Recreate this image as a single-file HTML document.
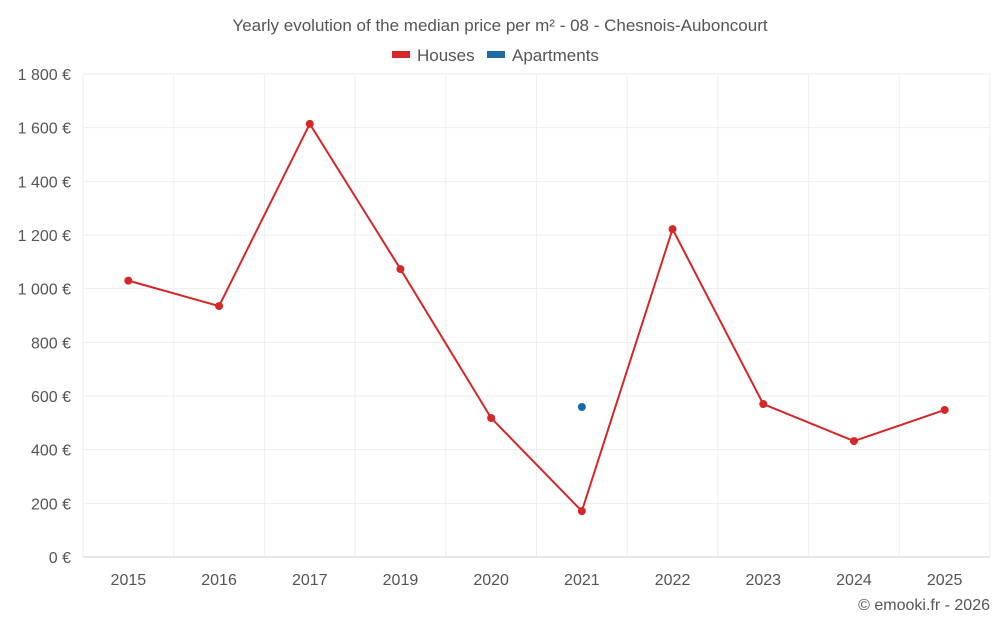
<!DOCTYPE html>
<html><head><meta charset="utf-8"><style>
body{margin:0;background:#fff;font-family:"Liberation Sans",sans-serif;}
svg text{font-family:"Liberation Sans",sans-serif;}
</style></head><body>
<svg id="c" width="1000" height="625">
<text x="500" y="31" text-anchor="middle" font-size="17" fill="#555">Yearly evolution of the median price per m² - 08 - Chesnois-Auboncourt</text>
<g><rect x="392" y="51" width="18" height="7" fill="#d62728"/><text x="417" y="61" font-size="17" fill="#555">Houses</text></g>
<g><rect x="487" y="51" width="18" height="7" fill="#1f6aa5"/><text x="512" y="61" font-size="17" fill="#555">Apartments</text></g>
<text x="990" y="610" text-anchor="end" font-size="16" fill="#555">© emooki.fr - 2026</text>
</svg>
<script>
const categories=["2015","2016","2017","2019","2020","2021","2022","2023","2024","2025"];
const houses=[1030,935,1614,1073,518,171,1222,570,432,548];
const apartments=[null,null,null,null,null,559,null,null,null,null];
const yTicks=[0,200,400,600,800,1000,1200,1400,1600,1800];
const yLabels=["0 €","200 €","400 €","600 €","800 €","1 000 €","1 200 €","1 400 €","1 600 €","1 800 €"];
const svg=document.getElementById('c');const NS="http://www.w3.org/2000/svg";
const L=83,R=990,T=74,B=557,yMax=1800;
const y=v=>B-(v/yMax)*(B-T);
const bw=(R-L)/categories.length;
const x=i=>L+bw*(i+0.5);
function mk(t,a){const e=document.createElementNS(NS,t);for(const k in a)e.setAttribute(k,a[k]);svg.appendChild(e);return e;}
yTicks.forEach((v,i)=>{
 const g=mk('line',{x1:L,x2:R,y1:y(v),y2:y(v),stroke:i==0?'#ccc':'#eee'});
 
 
 const t=mk('text',{x:71,y:y(v)+6,'text-anchor':'end','font-size':16,fill:'#555'});t.textContent=yLabels[i];
 
 
});
for(let i=0;i<=categories.length;i++){
 const g=mk('line',{x1:L+bw*i,x2:L+bw*i,y1:T,y2:B+(i==0||i==categories.length?0:0),stroke:'#eee'});
 
 
}
categories.forEach((c,i)=>{
 const t=mk('text',{x:x(i),y:585,'text-anchor':'middle','font-size':16,fill:'#555'});t.textContent=c;
 
 
});
const pl=mk('polyline',{points:houses.map((v,i)=>x(i)+','+y(v)).join(' '),fill:'none',stroke:'#d62728','stroke-width':2});


houses.forEach((v,i)=>{const p=mk('circle',{cx:x(i),cy:y(v),r:4,fill:'#d62728'});
 
 });
apartments.forEach((v,i)=>{if(v==null)return;const p=mk('circle',{cx:x(i),cy:y(v),r:4,fill:'#1f6aa5'});
 
 });
</script>
</body></html>
